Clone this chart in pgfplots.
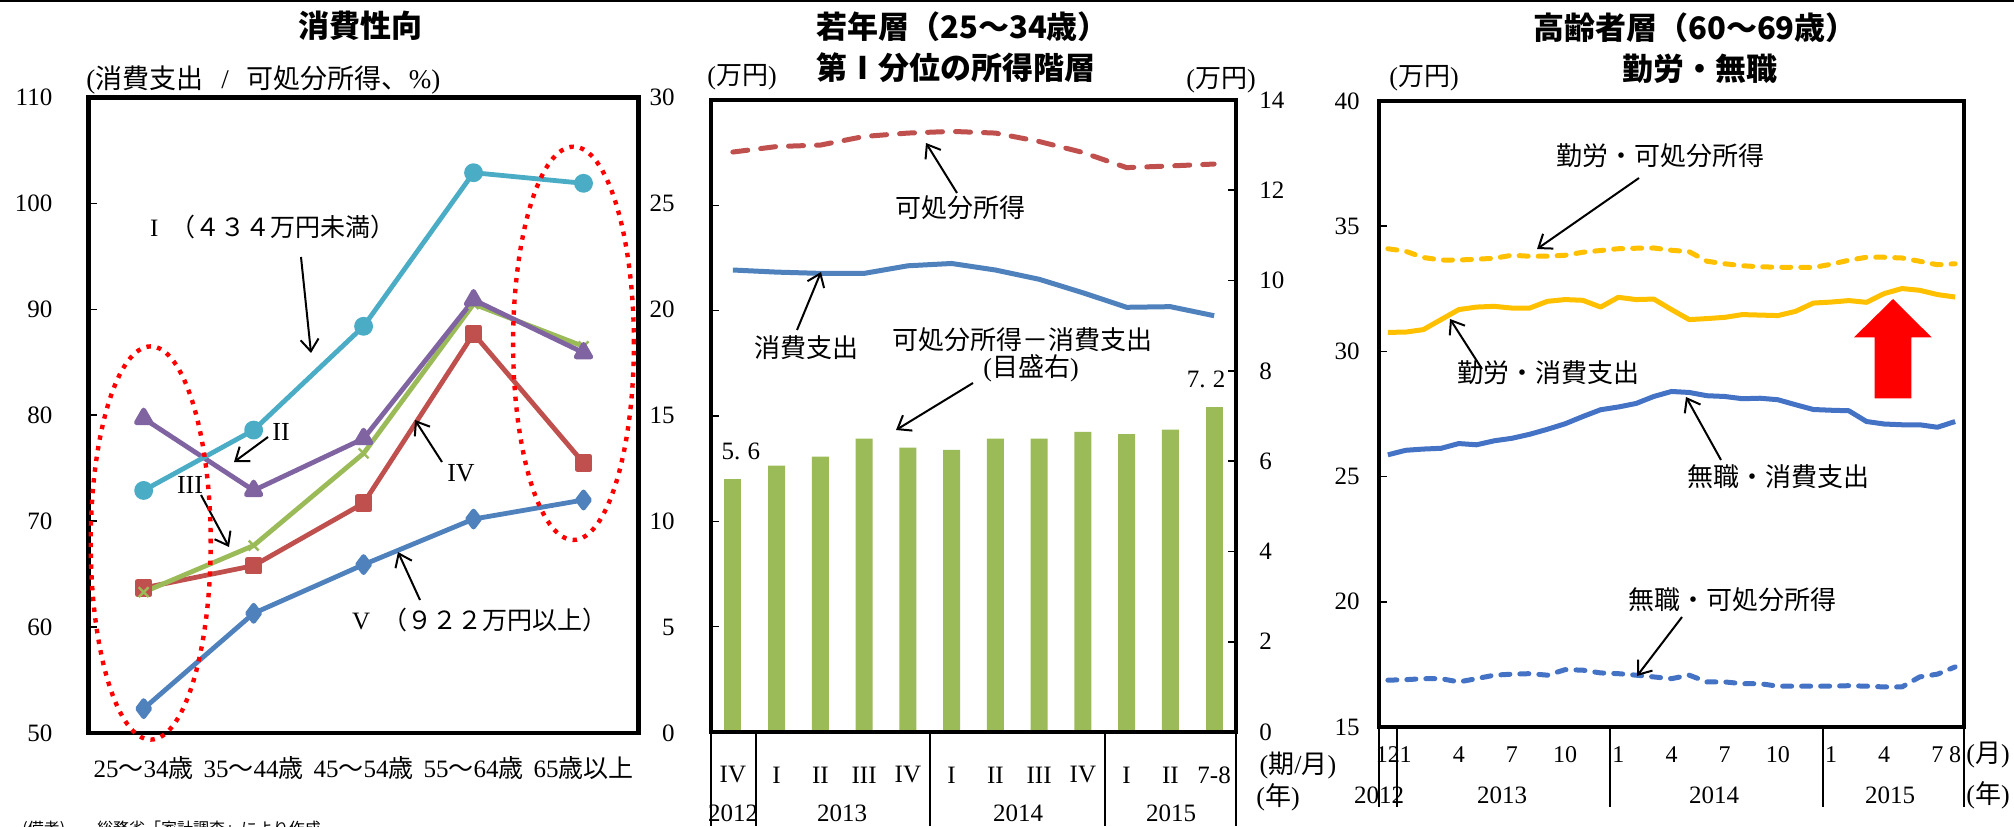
\documentclass[border=0pt]{standalone}
\usepackage{fontspec}
\setmainfont{Liberation Serif}
\newfontfamily\jp{Noto Sans CJK JP}
\usepackage{pgfplots}
\pgfplotsset{compat=1.18}
\usetikzlibrary{arrows.meta}

\newcommand{\fs}[1]{\fontsize{#1}{#1}\selectfont}

\definecolor{cI}{HTML}{4BACC6}
\definecolor{cII}{HTML}{8064A2}
\definecolor{cIII}{HTML}{9BBB59}
\definecolor{cIV}{HTML}{C0504D}
\definecolor{cV}{HTML}{4F81BD}
\definecolor{barg}{HTML}{9BBB59}
\definecolor{gold}{HTML}{FFC000}
\definecolor{blu}{HTML}{4472C4}

\pgfplotsset{
  frame/.style={
    scale only axis, clip=false,
    axis line style={line width=2.4pt},
    tick align=inside, major tick length=4pt,
    tick style={black, line width=0.8pt},
    /pgf/number format/assume math mode=true,
    ticklabel style={font=\fs{12.5}, inner sep=0pt},
  },
}
\tikzset{
  ann/.style={line width=1pt, -{Straight Barb[length=6pt,width=9pt,line width=1pt]}},
  lbl/.style={font=\fs{13}\jp, inner sep=0pt},
  ttl/.style={font=\fs{15.5}\jp\bfseries, inner sep=0pt},
  oval/.style={red, line width=2.2pt, dash pattern=on 2.2pt off 3.2pt},
}

\begin{document}
\begin{tikzpicture}
\useasboundingbox (0,0) rectangle (1007pt,413pt);

% ---------------- 消費性向 ----------------
\begin{axis}[frame, at={(44.35pt,46.5pt)}, anchor=south west,
  width=274.9pt, height=317.75pt,
  xmin=-0.5, xmax=4.5, ymin=50, ymax=110,
  ytick={50,60,...,110}, ytick pos=left,
  yticklabel style={anchor=east, xshift=-18pt},
  xtick={0,...,4},
  xticklabels={25{\jp ～}34{\jp 歳},35{\jp ～}44{\jp 歳},45{\jp ～}54{\jp 歳},55{\jp ～}64{\jp 歳},65{\jp 歳以上}},
  xtick style={draw=none},
  xticklabel style={anchor=center, yshift=-17.5pt},
  every axis plot/.append style={line width=2.4pt, line join=round, mark options={solid}},
]
\addplot[cV, mark=diamond*, mark size=4pt] coordinates {(0,52.3)(1,61.3)(2,65.9)(3,70.2)(4,72.0)};
\addplot[cIV, mark=square*, mark size=3.2pt] coordinates {(0,63.7)(1,65.8)(2,71.7)(3,87.7)(4,75.5)};
\addplot[cIII, mark=x, mark size=3.5pt, mark options={line width=1.2pt}] coordinates {(0,63.3)(1,67.7)(2,76.4)(3,90.5)(4,86.5)};
\addplot[cII, mark=triangle*, mark size=4.2pt] coordinates {(0,79.7)(1,72.9)(2,77.8)(3,90.9)(4,85.9)};
\addplot[cI, mark=*, mark size=3.5pt] coordinates {(0,72.9)(1,78.6)(2,88.4)(3,102.9)(4,101.9)};
\end{axis}
\begin{axis}[frame, at={(44.35pt,46.5pt)}, anchor=south west,
  width=274.9pt, height=317.75pt,
  xmin=-0.5, xmax=4.5, ymin=0, ymax=30,
  ytick={0,5,...,30}, axis y line*=right, axis x line=none,
  y axis line style={draw=none}, ytick style={draw=none},
  yticklabel style={anchor=east, xshift=18.25pt},
]
\addplot[draw=none] coordinates {(0,0)};
\end{axis}

% ---------------- 若年層 ----------------
\begin{axis}[frame, at={(355.5pt,47pt)}, anchor=south west,
  width=262.5pt, height=316pt,
  xmin=-0.5, xmax=11.5, ymin=0, ymax=14,
  ytick={0,2,...,14}, ytick pos=right,
  yticklabel style={anchor=west, xshift=11.5pt},
  xtick={0,...,11},
  xticklabels={IV,I,II,III,IV,I,II,III,IV,I,II,7-8},
  xtick style={draw=none},
  xticklabel style={anchor=center, yshift=-17.5pt},
  ybar, bar width=8.6pt, bar shift=0pt,
  every node near coord/.append style={font=\fs{12.5}, anchor=center, yshift=14pt},
]
\addplot[fill=barg, draw=none, nodes near coords={5.\hspace{0.3em}6},
  every node near coord/.append style={xshift=4pt}]
  coordinates {(0,5.6)};
\addplot[fill=barg, draw=none]
  coordinates {(1,5.9) (2,6.1) (3,6.5) (4,6.3) (5,6.25) (6,6.5) (7,6.5) (8,6.65) (9,6.6) (10,6.7)};
\addplot[fill=barg, draw=none, nodes near coords={7.\hspace{0.3em}2},
  every node near coord/.append style={xshift=-4pt}]
  coordinates {(11,7.2)};
\end{axis}
\begin{axis}[frame, at={(355.5pt,47pt)}, anchor=south west,
  width=262.5pt, height=316pt,
  xmin=-0.5, xmax=11.5, ymin=0, ymax=30,
  ytick={5,10,...,25}, ytick pos=left, yticklabels={},
  xtick=\empty,
  every axis plot/.append style={line width=2.5pt, line join=round},
]
\addplot[cIV, line cap=round, dash pattern=on 7.5pt off 6.5pt]
  coordinates {(0,27.53)(1,27.79)(2,27.86)(3,28.27)(4,28.43)(5,28.51)(6,28.43)(7,28.03)(8,27.51)(9,26.79)(10,26.87)(11,26.96)};
\addplot[cV]
  coordinates {(0,21.93)(1,21.83)(2,21.77)(3,21.77)(4,22.13)(5,22.24)(6,21.93)(7,21.49)(8,20.85)(9,20.16)(10,20.19)(11,19.76)};
\end{axis}

% ---------------- 高齢者層 ----------------
\begin{axis}[frame, at={(689.5pt,49.5pt)}, anchor=south west,
  width=292.5pt, height=313pt,
  xmin=-0.5, xmax=32.5, ymin=15, ymax=40,
  ytick={15,20,...,40}, ytick pos=left,
  yticklabel style={anchor=east, xshift=-9.5pt},
  xtick={0,1,4,7,10,13,16,19,22,25,28,31,32},
  xticklabels={12,1,4,7,10,1,4,7,10,1,4,7,8},
  xtick style={draw=none},
  xticklabel style={anchor=center, yshift=-14pt, font=\fs{12}},
  every axis plot/.append style={line width=2.5pt, line join=round},
]
% 勤労・可処分所得
\addplot[gold, line cap=round, dash pattern=on 4.5pt off 5pt] coordinates {
(0,34.10)(1,34.00)(2,33.75)(3,33.65)(4,33.65)(5,33.68)(6,33.72)(7,33.84)(8,33.80)(9,33.80)
(10,33.84)(11,33.96)(12,34.03)(13,34.10)(14,34.12)(15,34.13)(16,34.04)(17,33.98)(18,33.60)(19,33.50)
(20,33.42)(21,33.38)(22,33.36)(23,33.36)(24,33.35)(25,33.48)(26,33.64)(27,33.76)(28,33.76)(29,33.73)
(30,33.60)(31,33.46)(32,33.50)};
% 勤労・消費支出
\addplot[gold] coordinates {
(0,30.76)(1,30.77)(2,30.87)(3,31.27)(4,31.67)(5,31.77)(6,31.80)(7,31.73)(8,31.73)(9,32.00)
(10,32.07)(11,32.04)(12,31.77)(13,32.16)(14,32.07)(15,32.09)(16,31.67)(17,31.27)(18,31.31)(19,31.36)
(20,31.47)(21,31.45)(22,31.43)(23,31.60)(24,31.93)(25,31.97)(26,32.03)(27,31.96)(28,32.31)(29,32.51)
(30,32.44)(31,32.27)(32,32.17)};
% 無職・消費支出
\addplot[blu] coordinates {
(0,25.87)(1,26.05)(2,26.10)(3,26.13)(4,26.32)(5,26.27)(6,26.43)(7,26.53)(8,26.69)(9,26.89)
(10,27.11)(11,27.40)(12,27.67)(13,27.78)(14,27.92)(15,28.20)(16,28.40)(17,28.36)(18,28.23)(19,28.20)
(20,28.11)(21,28.13)(22,28.07)(23,27.87)(24,27.68)(25,27.65)(26,27.63)(27,27.20)(28,27.10)(29,27.07)
(30,27.07)(31,26.97)(32,27.20)};
% 無職・可処分所得
\addplot[blu, line cap=round, dash pattern=on 4.5pt off 5pt] coordinates {
(0,16.87)(1,16.89)(2,16.93)(3,16.93)(4,16.80)(5,16.93)(6,17.07)(7,17.11)(8,17.13)(9,17.07)
(10,17.29)(11,17.27)(12,17.16)(13,17.13)(14,17.07)(15,17.00)(16,16.93)(17,17.07)(18,16.80)(19,16.80)
(20,16.73)(21,16.73)(22,16.63)(23,16.63)(24,16.63)(25,16.63)(26,16.65)(27,16.63)(28,16.60)(29,16.60)
(30,17.00)(31,17.11)(32,17.40)};
\end{axis}

% annotations, in pixel units measured from the top-left corner
\begin{scope}[x=0.5pt, y=-0.5pt, yshift=413pt]
\draw[line width=1pt] (0,1) -- (2014,1);

\node[ttl] at (360,26) {消費性向};
\node[font=\fs{13.5}, inner sep=0pt, anchor=west] at (86,80) {({\jp 消費支出}\ \ \,/\ \ \,{\jp 可処分所得、}\%)};
\node[font=\fs{12.5}, inner sep=0pt] at (273,227) {I\hspace{0.5em}{\jp （４３４万円未満）}};
\draw[ann] (301,257) -- (311,353);
\node[font=\fs{13}, inner sep=0pt] at (281,432) {II};
\draw[ann] (268,437) -- (234,462);
\node[font=\fs{13}, inner sep=0pt] at (190,485) {III};
\draw[ann] (201,495) -- (229,547);
\node[font=\fs{13}, inner sep=0pt] at (461,473) {IV};
\draw[ann] (442,462) -- (415,420);
\node[font=\fs{12.5}, inner sep=0pt] at (480,620) {V\hspace{0.5em}{\jp （９２２万円以上）}};
\draw[ann] (420,600) -- (398,552);
\draw[oval] (150.7,543) ellipse [x radius=30pt, y radius=98.3pt];
\draw[oval] (573.5,343.3) ellipse [x radius=30.2pt, y radius=98.3pt];
\node[font=\fs{8}\jp, inner sep=0pt, anchor=north west] at (22,821) {(備考)\hspace{2em}総務省「家計調査」により作成};

\node[ttl, anchor=west] at (816,27) {若年層（25～34歳）};
\node[ttl, anchor=west] at (816,68) {第Ⅰ分位の所得階層};
\node[font=\fs{13}, inner sep=0pt] at (742,77) {({\jp 万円})};
\node[font=\fs{13}, inner sep=0pt] at (1221,80) {({\jp 万円})};
\node[lbl] at (960,208) {可処分所得};
\draw[ann] (957,193) -- (926,143);
\node[lbl] at (806,348) {消費支出};
\draw[ann] (797,330) -- (821,272);
\node[lbl] at (1022,340) {可処分所得－消費支出};
\node[font=\fs{13}, inner sep=0pt] at (1031,368) {({\jp 目盛右})};
\draw[ann] (973,383) -- (896,430);
\foreach \x in {711,756,930,1105,1236} \draw[line width=0.8pt] (\x,732) -- (\x,826);
\foreach \x/\t in {733/2012,842/2013,1018/2014,1171/2015}
  \node[font=\fs{12.5}, inner sep=0pt] at (\x,813) {\t};
\node[font=\fs{13}, inner sep=0pt] at (1298,765) {({\jp 期}/{\jp 月})};
\node[font=\fs{13}, inner sep=0pt, anchor=west] at (1256,797) {({\jp 年})};

\node[ttl] at (1695,28) {高齢者層（60～69歳）};
\node[ttl] at (1700,69) {勤労・無職};
\node[font=\fs{13}, inner sep=0pt] at (1424,78) {({\jp 万円})};
\node[lbl] at (1660,156) {勤労・可処分所得};
\draw[ann] (1639,178) -- (1537,249);
\node[lbl] at (1548,373) {勤労・消費支出};
\draw[ann] (1482,369) -- (1450,319);
\node[lbl] at (1778,477) {無職・消費支出};
\draw[ann] (1721,460) -- (1686,397);
\node[lbl] at (1732,600) {無職・可処分所得};
\draw[ann] (1682,617) -- (1637,676);
\fill[red] (1893,299) -- (1931.6,337.3) -- (1911.3,337.3) -- (1911.3,398.3)
  -- (1874.5,398.3) -- (1874.5,337.3) -- (1854,337.3) -- cycle;
\foreach \x in {1379,1397,1610,1823,1964} \draw[line width=0.8pt] (\x,727) -- (\x,807);
\foreach \x/\t in {1379/2012,1502/2013,1714/2014,1890/2015}
  \node[font=\fs{12.5}, inner sep=0pt] at (\x,795) {\t};
\node[font=\fs{13}, inner sep=0pt] at (1988,755) {({\jp 月})};
\node[font=\fs{13}, inner sep=0pt] at (1988,795) {({\jp 年})};
\end{scope}
\end{tikzpicture}
\end{document}
